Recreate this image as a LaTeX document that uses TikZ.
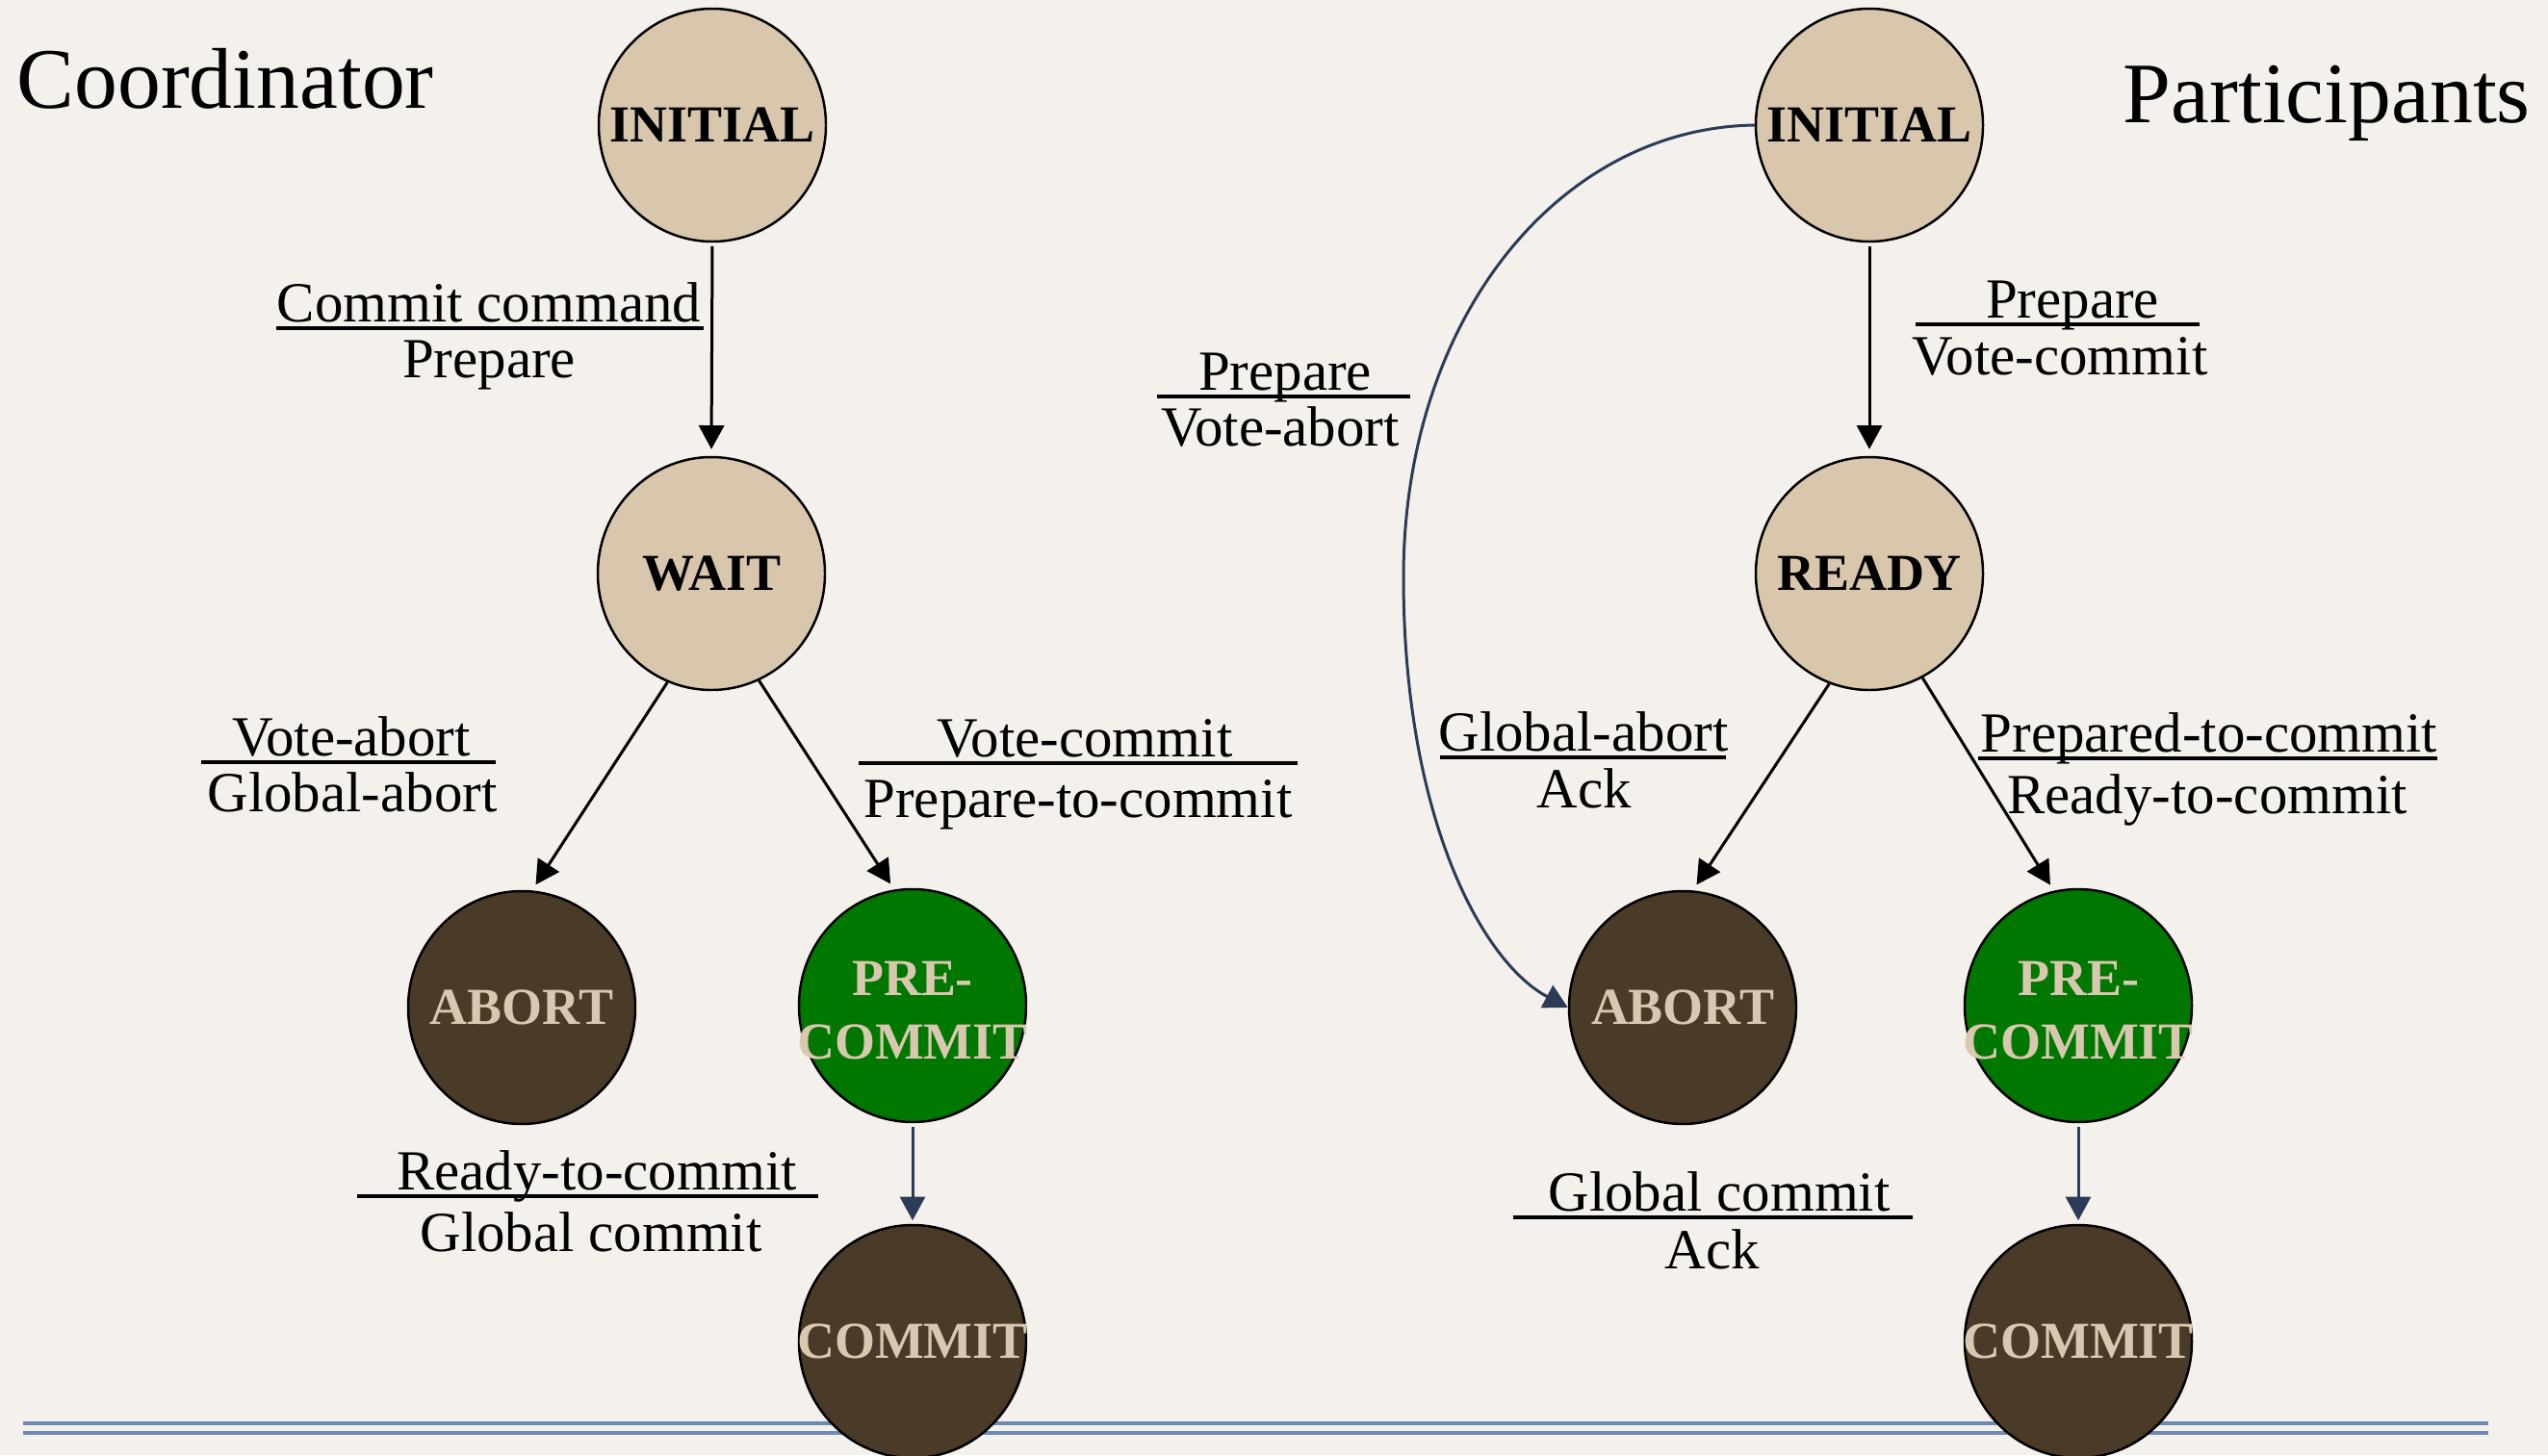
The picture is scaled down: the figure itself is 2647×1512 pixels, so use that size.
\documentclass[tikz,border=0pt]{standalone}
\usepackage{fontspec}
\setmainfont{Liberation Serif}
\usetikzlibrary{arrows.meta,shapes.geometric,calc}

\definecolor{paper}{RGB}{244,241,236}
\definecolor{statetan}{RGB}{216,199,173}
\definecolor{statebrown}{RGB}{74,58,40}
\definecolor{stategreen}{RGB}{0,120,0}
\definecolor{tantext}{RGB}{216,200,176}
\definecolor{linknavy}{RGB}{44,60,88}
\definecolor{rulerblue}{RGB}{110,137,180}

\begin{document}
\begin{tikzpicture}[x=0.2835pt,y=-0.2835pt,
  state/.style={ellipse,draw=black,line width=0.7pt,
    minimum width=66.9pt,minimum height=68.6pt,inner sep=0pt},
  lightstate/.style={state,fill=statetan},
  darkstate/.style={state,fill=statebrown},
  greenstate/.style={state,fill=stategreen},
  stname/.style={inner sep=0pt,align=center,
    font=\fontsize{15.3}{18.6}\selectfont\bfseries},
  stdark/.style={stname,text=tantext},
  lbl/.style={anchor=base,inner sep=0pt,font=\fontsize{16.7}{18}\selectfont},
  heading/.style={anchor=base west,inner sep=0pt,font=\fontsize{25.4}{27}\selectfont},
  fracrule/.style={line width=1pt},
  trans/.style={line width=0.85pt,-{Triangle[length=7pt,width=7.4pt]}},
  navytrans/.style={trans,linknavy},
]

% page and footer rules
\useasboundingbox (0,0) rectangle (2647,1512);
\fill[paper] (0,0) rectangle (2647,1512);
\draw[rulerblue,line width=0.9pt] (24,1479) -- (2585,1479);
\draw[rulerblue,line width=0.9pt] (24,1489) -- (2585,1489);

% headings
\node[heading] (hcoord) at (17,112) {Coordinator};
\node[heading] (hpart) at (2205,127) {Participants};

% coordinator states
\node[lightstate] (cinit) at (740,130) {};
\node[stname] (cinit-t) at (cinit) {INITIAL};
\node[lightstate] (cwait) at (739,596) {};
\node[stname] (cwait-t) at (cwait) {WAIT};
\node[darkstate] (cabort) at (542,1047) {};
\node[stdark] (cabort-t) at (cabort) {ABORT};
\node[greenstate] (cpre) at (948,1045) {};
\node[stdark,yshift=-1.4pt] (cpre-t) at (cpre) {PRE-\\COMMIT};
\node[darkstate] (ccommit) at (948,1394) {};
\node[stdark] (ccommit-t) at (ccommit) {COMMIT};

% participant states
\node[lightstate] (pinit) at (1942,130) {};
\node[stname] (pinit-t) at (pinit) {INITIAL};
\node[lightstate] (pready) at (1942,596) {};
\node[stname] (pready-t) at (pready) {READY};
\node[darkstate] (pabort) at (1748,1047) {};
\node[stdark] (pabort-t) at (pabort) {ABORT};
\node[greenstate] (ppre) at (2159,1045) {};
\node[stdark,yshift=-1.4pt] (ppre-t) at (ppre) {PRE-\\COMMIT};
\node[darkstate] (pcommit) at (2159,1394) {};
\node[stdark] (pcommit-t) at (pcommit) {COMMIT};

% coordinator transitions
\draw[trans,shorten <=1pt,shorten >=2pt] (cinit.south) -- (cwait.north);
\draw[trans,shorten >=2pt] (cwait.248) -- (cabort.85);
\draw[trans,shorten >=2pt] (cwait.294) -- (cpre.99);
\draw[navytrans,shorten <=1pt,shorten >=1pt] (cpre.south) -- (ccommit.north);

% participant transitions
\draw[trans,shorten <=1pt,shorten >=2pt] (pinit.south) -- (pready.north);
\draw[trans,shorten >=2pt] (pready.250) -- (pabort.85);
\draw[trans,shorten >=2pt] (pready.297) -- (ppre.102);
\draw[navytrans,shorten <=1pt,shorten >=1pt] (ppre.south) -- (pcommit.north);
\coordinate (pbend) at (1458,600);
\draw[navytrans] (pinit.west) .. controls (1620,133) and (1458,330) .. (pbend)
  .. controls (1458,850) and (1540,1000) .. (pabort.west);

% coordinator labels (event over action)
\node[lbl] (c1a) at (508,334) {Commit command};
\draw[fracrule] (287,341) -- (731,341);
\node[lbl] (c1b) at (508,392) {Prepare};

\node[lbl] (c2a) at (365,785) {Vote-abort};
\draw[fracrule] (209,792) -- (515,792);
\node[lbl] (c2b) at (366,843) {Global-abort};

\node[lbl] (c3a) at (1127,786) {Vote-commit};
\draw[fracrule] (892,793) -- (1348,793);
\node[lbl] (c3b) at (1120,849) {Prepare-to-commit};

\node[lbl] (c4a) at (620,1236) {Ready-to-commit};
\draw[fracrule] (371,1243) -- (850,1243);
\node[lbl] (c4b) at (614,1300) {Global commit};

% participant labels
\node[lbl] (p5a) at (2153,330) {Prepare};
\draw[fracrule] (1990,337) -- (2285,337);
\node[lbl] (p5b) at (2140,389) {Vote-commit};

\node[lbl] (p6a) at (1335,405) {Prepare};
\draw[fracrule] (1202,412) -- (1465,412);
\node[lbl] (p6b) at (1330,463) {Vote-abort};

\node[lbl] (p7a) at (1645,780) {Global-abort};
\draw[fracrule] (1496,787) -- (1793,787);
\node[lbl] (p7b) at (1646,839) {Ack};

\node[lbl] (p8a) at (2295,781) {Prepared-to-commit};
\draw[fracrule] (2055,788) -- (2532,788);
\node[lbl] (p8b) at (2293,845) {Ready-to-commit};

\node[lbl] (p9a) at (1786,1258) {Global commit};
\draw[fracrule] (1572,1265) -- (1987,1265);
\node[lbl] (p9b) at (1779,1318) {Ack};

\end{tikzpicture}
\end{document}
